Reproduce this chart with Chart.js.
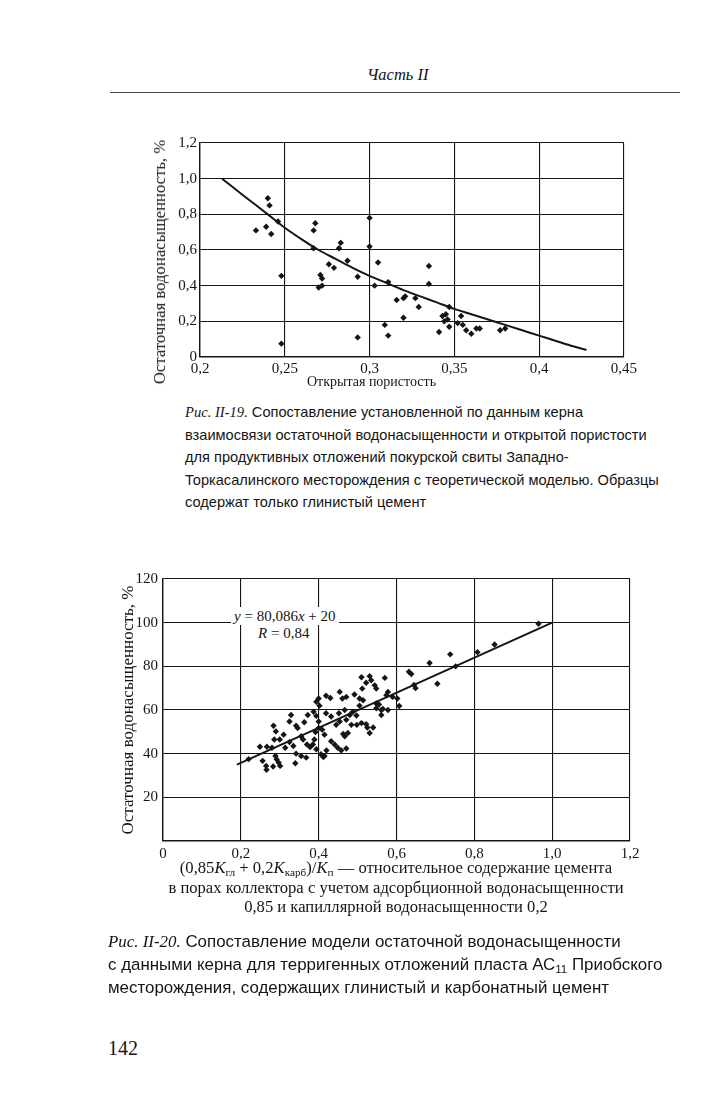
<!DOCTYPE html>
<html><head><meta charset="utf-8">
<script src="https://cdn.jsdelivr.net/npm/chart.js@4.4.1/dist/chart.umd.min.js"></script>
<style>
html,body{margin:0;padding:0;background:#fff}
body{width:709px;height:1105px;position:relative;overflow:hidden;font-family:"Liberation Serif","DejaVu Serif",serif;color:#151515}
.abs{position:absolute;white-space:nowrap}
.cap{font-family:"Liberation Sans",Arial,sans-serif}
.cap i{font-family:"Liberation Serif",serif}
sub{font-size:0.68em;vertical-align:-0.3em;line-height:0}
.rot{transform:translate(-50%,-50%) rotate(-90deg);transform-origin:center center}
</style></head><body>

<div class="abs" style="left:367px;top:65px;font-size:16.5px;font-style:italic;line-height:20px">Часть II</div>
<div class="abs" style="left:110px;top:92px;width:570px;height:1px;background:#444"></div>

<div class="abs" style="left:120px;top:128px;width:520px;height:272px"><canvas id="c1"></canvas></div>
<div class="abs rot" style="left:160px;top:262px;font-size:16.7px;line-height:20px">Остаточная водонасыщенность, %</div>
<div class="abs" style="left:307px;top:373px;font-size:14px;line-height:18px">Открытая пористость</div>

<div class="abs cap" style="left:185px;top:401px;font-size:14.6px;line-height:22.5px">
<i>Рис. II-19.</i> Сопоставление установленной по данным керна<br>
взаимосвязи остаточной водонасыщенности и открытой пористости<br>
для продуктивных отложений покурской свиты Западно-<br>
Торкасалинского месторождения с теоретической моделью. Образцы<br>
содержат только глинистый цемент</div>

<div class="abs" style="left:100px;top:565px;width:545px;height:300px"><canvas id="c2"></canvas></div>
<div class="abs" style="left:231px;top:607px;font-size:15px;line-height:18px;background:#fff;padding:0 3px"><i>y</i> = 80,086<i>x</i> + 20</div>
<div class="abs" style="left:256px;top:624px;font-size:15px;line-height:18px;background:#fff;padding:0 2px"><i>R</i> = 0,84</div>

<div class="abs" style="left:140px;top:858px;width:512px;text-align:center;font-size:16.6px;line-height:19.5px">
(0,85<i>K</i><sub>гл</sub> + 0,2<i>K</i><sub>карб</sub>)/<i>K</i><sub>п</sub> — относительное содержание цемента<br>
в порах коллектора с учетом адсорбционной водонасыщенности<br>
0,85 и капиллярной водонасыщенности 0,2</div>

<div class="abs cap" style="left:108px;top:930px;font-size:16.9px;line-height:23px">
<i>Рис. II-20.</i> Сопоставление модели остаточной водонасыщенности<br>
с данными керна для терригенных отложений пласта АС<sub>11</sub> Приобского<br>
месторождения, содержащих глинистый и карбонатный цемент</div>

<div class="abs" style="left:108px;top:1036px;font-size:20px;line-height:24px">142</div>

<script>
// ---- Chart II-19 data ----
const porosityX = [0.233,0.240,0.241,0.239,0.242,0.246,0.248,0.248,0.268,0.267,0.267,0.276,0.279,0.271,0.272,0.270,0.272,0.282,0.283,0.287,0.293,0.293,0.300,0.300,0.305,0.303,0.311,0.309,0.311,0.316,0.320,0.321,0.320,0.327,0.329,0.335,0.335,0.347,0.343,0.345,0.344,0.346,0.347,0.341,0.354,0.352,0.355,0.357,0.360,0.363,0.365,0.377,0.380];
const swrY =      [0.71,0.89,0.85,0.73,0.69,0.76,0.455,0.075,0.75,0.71,0.61,0.52,0.50,0.46,0.44,0.39,0.40,0.61,0.64,0.54,0.45,0.11,0.78,0.62,0.53,0.40,0.42,0.18,0.12,0.32,0.33,0.34,0.22,0.33,0.28,0.51,0.41,0.28,0.23,0.24,0.20,0.21,0.17,0.14,0.23,0.19,0.18,0.15,0.13,0.16,0.16,0.15,0.16];
const modelX = [0.213,0.225,0.24,0.25,0.26,0.27,0.28,0.29,0.30,0.31,0.32,0.33,0.34,0.35,0.36,0.37,0.38,0.39,0.40,0.41,0.42,0.428];
const modelY = [1.0,0.91,0.80,0.725,0.66,0.60,0.55,0.50,0.455,0.415,0.375,0.34,0.305,0.27,0.24,0.21,0.18,0.15,0.12,0.09,0.06,0.04];
const xTicks1 = [0.2,0.25,0.3,0.35,0.4,0.45];
const yTicks1 = [0,0.2,0.4,0.6,0.8,1.0,1.2];

// ---- Chart II-20 data ----
const cementX = [0.220,0.249,0.267,0.280,0.256,0.265,0.266,0.283,0.292,0.297,0.301,0.289,0.286,0.284,0.290,0.310,0.325,0.314,
 0.329,0.325,0.342,0.346,0.355,0.363,0.372,0.370,0.342,0.355,0.368,0.340,
 0.394,0.400,0.419,0.387,0.394,0.400,0.400,0.392,0.389,0.385,0.394,0.406,0.415,0.409,0.415,0.419,0.432,0.432,0.441,0.449,0.445,0.454,0.471,0.480,0.484,0.475,0.467,0.471,
 0.454,0.461,0.471,0.467,0.488,0.492,0.510,0.512,0.522,0.531,0.535,0.544,0.548,0.570,0.578,0.574,0.505,0.514,0.498,0.510,0.522,0.531,0.548,0.548,0.561,0.561,0.578,0.602,0.607,
 0.632,0.638,0.645,0.649,0.685,0.705,0.738,0.752,0.808,0.852,0.965,
 0.300,0.335,0.360,0.378,0.420,0.458,0.463,0.452,0.497,0.505,0.525,0.540,0.555,0.565,0.590,0.430,0.402,0.412];
const waterY = [37.5,43.2,43.2,42.7,36.7,34.4,32.6,34.1,37.4,35.9,34.4,38.9,46.5,52.8,50.2,48.7,45.3,42.7,
 57.7,54.7,52.8,51.7,48.0,54.4,57.7,44.2,40.0,38.9,38.2,35.6,
 63.8,65.3,66.5,59.2,57.3,54.7,51.7,49.9,46.5,44.2,42.0,39.7,38.9,51.0,48.7,58.5,57.0,45.7,44.2,42.7,53.2,54.7,55.5,57.7,53.2,49.5,48.0,42.4,
 68.3,65.3,66.0,60.0,59.2,67.1,75.0,69.8,72.5,75.5,73.6,71.3,69.8,74.7,68.3,66.8,65.3,64.5,53.2,54.0,53.5,49.5,63.0,60.8,60.0,57.7,60.0,65.3,61.8,
 77.5,76.5,71.5,70.0,81.5,72.0,85.5,80.0,86.5,90.0,99.5,
 46.5,43.5,46.5,43.0,41.5,41.5,49.0,58.5,57.5,62.0,52.0,52.0,62.5,60.5,66.0,65.5,62.0,38.5];
const fitX = [0.19,1.0];
const fitY = [35,100];
const xTicks2 = [0,0.2,0.4,0.6,0.8,1.0,1.2];
const yTicks2 = [0,20,40,60,80,100,120];

const INK = '#151515';
const TICKFONT = {family:'Liberation Serif', size:15};

function zip(xs, ys){ return xs.map((x,i)=>({x:x, y:ys[i]})); }
function fmt1(v){ if (Math.abs(v)<1e-9) return '0'; return v.toFixed(1).replace('.', ','); }
function fmt2(v){ if (Math.abs(v)<1e-9) return '0'; return String(parseFloat(v.toFixed(2))).replace('.', ','); }
function fixedTicks(list){ return function(scale){ scale.ticks = list.map(v=>({value:v})); }; }

const gridOpt = {color:INK, lineWidth:1.1, drawTicks:false};
const borderOpt = {color:INK, width:1.4};

new Chart(document.getElementById('c1'), {
  type:'scatter',
  data:{datasets:[
    {type:'line', data:zip(modelX, modelY), borderColor:INK, borderWidth:2, pointRadius:0, cubicInterpolationMode:'monotone', fill:false},
    {type:'scatter', data:zip(porosityX, swrY), pointStyle:'rectRot', pointRadius:3.2, backgroundColor:INK, borderWidth:0}
  ]},
  options:{
    animation:false, responsive:true, maintainAspectRatio:false,
    plugins:{legend:{display:false}, tooltip:{enabled:false}},
    layout:{padding:{left:0, right:12, top:15, bottom:0}},
    scales:{
      x:{type:'linear', min:0.2, max:0.45, afterBuildTicks:fixedTicks(xTicks1),
         ticks:{font:TICKFONT, color:INK, padding:3, maxRotation:0, autoSkip:false, callback:v=>fmt2(v)},
         grid:gridOpt, border:borderOpt, afterFit(s){ s.height = 43; }},
      y:{type:'linear', min:0, max:1.2, afterBuildTicks:fixedTicks(yTicks1),
         ticks:{font:TICKFONT, color:INK, padding:3, autoSkip:false, callback:v=>fmt1(v)},
         grid:gridOpt, border:borderOpt,
         afterFit(s){ s.width = 80; }}
    }
  }
});

new Chart(document.getElementById('c2'), {
  type:'scatter',
  data:{datasets:[
    {type:'line', data:zip(fitX, fitY), borderColor:INK, borderWidth:2, pointRadius:0, fill:false},
    {type:'scatter', data:zip(cementX, waterY), pointStyle:'rectRot', pointRadius:3.2, backgroundColor:INK, borderWidth:0}
  ]},
  options:{
    animation:false, responsive:true, maintainAspectRatio:false,
    plugins:{legend:{display:false}, tooltip:{enabled:false}},
    layout:{padding:{left:0, right:15, top:12, bottom:0}},
    scales:{
      x:{type:'linear', min:0, max:1.2, afterBuildTicks:fixedTicks(xTicks2),
         ticks:{font:TICKFONT, color:INK, padding:4, maxRotation:0, autoSkip:false, callback:v=>fmt1(v)},
         grid:gridOpt, border:borderOpt, afterFit(s){ s.height = 24; }},
      y:{type:'linear', min:0, max:120, afterBuildTicks:fixedTicks(yTicks2),
         ticks:{font:TICKFONT, color:INK, padding:5, autoSkip:false, callback:v=>(v===0?'':String(v))},
         grid:gridOpt, border:borderOpt,
         title:{display:true, text:'Остаточная водонасыщенность, %', color:INK, font:{family:'Liberation Serif', size:17}, padding:{top:18, bottom:0}},
         afterFit(s){ s.width = 63; }}
    }
  }
});
</script>
</body></html>
